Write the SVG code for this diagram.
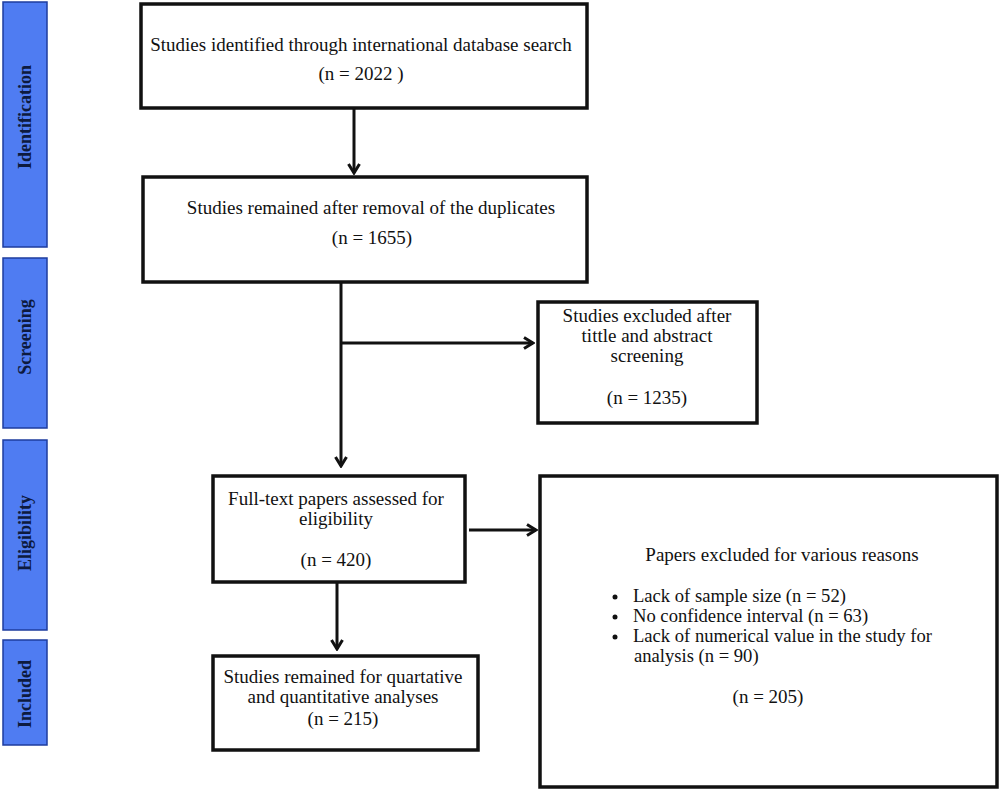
<svg xmlns="http://www.w3.org/2000/svg" width="1000" height="793" viewBox="0 0 1000 793">
<defs>
<style>
.box{fill:#fff;stroke:#111;stroke-width:3.5}
.bar{fill:#4f7cf2;stroke:#1e3c9e;stroke-width:1.5}
.t{font-family:"Liberation Serif","DejaVu Serif",serif;font-size:19px;fill:#111;text-anchor:middle}
.tl{font-family:"Liberation Serif","DejaVu Serif",serif;font-size:18.6px;fill:#111}
.side{font-family:"Liberation Serif","DejaVu Serif",serif;font-size:18px;font-weight:bold;fill:#0d1a3f;text-anchor:middle}
.ln{fill:none;stroke:#111;stroke-width:3}
</style>
<marker id="ah" viewBox="0 0 14 14" refX="12" refY="7" markerWidth="14" markerHeight="14" markerUnits="userSpaceOnUse" orient="auto">
<polyline points="3,1.5 12,7 3,12.5" fill="none" stroke="#111" stroke-width="3"/>
</marker>
</defs>
<rect width="1000" height="793" fill="#fff"/>
<g id="phase-identification">
<rect class="bar" x="3" y="2" width="44" height="245"/>
<text class="side" transform="translate(31,117) rotate(-90)" font-size="20">Identification</text>
</g>
<g id="phase-screening">
<rect class="bar" x="3" y="258" width="44" height="170"/>
<text class="side" transform="translate(31,337) rotate(-90)">Screening</text>
</g>
<g id="phase-eligibility">
<rect class="bar" x="3" y="440" width="44" height="190"/>
<text class="side" transform="translate(31,533) rotate(-90)">Eligibility</text>
</g>
<g id="phase-included">
<rect class="bar" x="3" y="640" width="44" height="105"/>
<text class="side" transform="translate(31,694) rotate(-90)" font-size="19.5">Included</text>
</g>
<g id="identified">
<rect class="box" x="141" y="4" width="446" height="104"/>
<text class="t" x="361" y="51" font-size="20.5">Studies identified through international database search</text>
<text class="t" x="361" y="80" font-size="20">(n = 2022 )</text>
</g>
<g id="remained">
<rect class="box" x="143" y="177" width="444" height="105"/>
<text class="t" x="371" y="214" font-size="20">Studies remained after removal of the duplicates</text>
<text class="t" x="372" y="244" font-size="20">(n = 1655)</text>
</g>
<g id="excluded-screening">
<rect class="box" x="538" y="302" width="219" height="121"/>
<text class="t" x="647" y="322">Studies excluded after</text>
<text class="t" x="647" y="342">tittle and abstract</text>
<text class="t" x="647" y="362">screening</text>
<text class="t" x="647" y="404">(n = 1235)</text>
</g>
<g id="fulltext">
<rect class="box" x="213" y="476" width="252" height="106"/>
<text class="t" x="336" y="505">Full-text papers assessed for</text>
<text class="t" x="336" y="525">eligibility</text>
<text class="t" x="336" y="566">(n = 420)</text>
</g>
<g id="excluded-fulltext">
<rect class="box" x="540" y="476" width="457" height="311"/>
<text class="t" x="782" y="561">Papers excluded for various reasons</text>
<circle cx="615" cy="597" r="2.5" fill="#111"/>
<circle cx="615" cy="617" r="2.5" fill="#111"/>
<circle cx="615" cy="637" r="2.5" fill="#111"/>
<text class="tl" x="633" y="602">Lack of sample size (n = 52)</text>
<text class="tl" x="633" y="622">No confidence interval (n = 63)</text>
<text class="tl" x="633" y="642">Lack of numerical value in the study for</text>
<text class="tl" x="634" y="662">analysis (n = 90)</text>
<text class="t" x="768" y="703">(n = 205)</text>
</g>
<g id="included">
<rect class="box" x="213" y="656" width="265" height="94"/>
<text class="t" x="343" y="683" font-size="20">Studies remained for quartative</text>
<text class="t" x="343" y="703" font-size="20">and quantitative analyses</text>
<text class="t" x="343" y="725">(n = 215)</text>
</g>
<g id="connectors">
<line class="ln" x1="354" y1="108" x2="354" y2="173" marker-end="url(#ah)"/>
<line class="ln" x1="341" y1="282" x2="341" y2="466" marker-end="url(#ah)"/>
<line class="ln" x1="341" y1="343" x2="533" y2="343" marker-end="url(#ah)"/>
<line class="ln" x1="469" y1="530" x2="536" y2="530" marker-end="url(#ah)"/>
<line class="ln" x1="337" y1="582" x2="337" y2="649" marker-end="url(#ah)"/>
</g>
</svg>
